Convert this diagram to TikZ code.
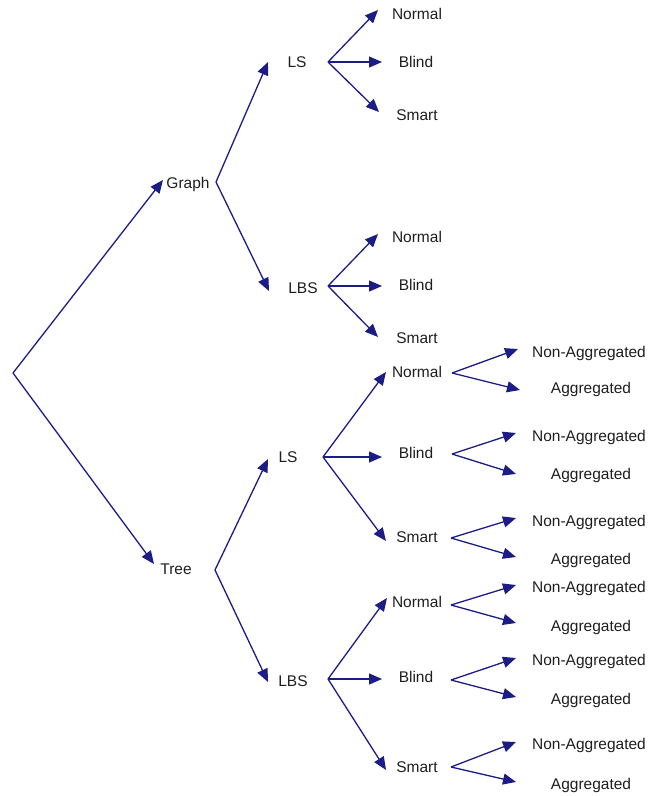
\documentclass[tikz,border=0pt]{standalone}
\usepackage{fontspec}
\setmainfont{Liberation Sans}
\usetikzlibrary{arrows.meta}
\definecolor{linknavy}{RGB}{28,28,135}
\definecolor{labelgray}{RGB}{30,30,30}
\tikzset{
  lbl/.style={inner sep=0pt, text=labelgray, font=\fontsize{15.5}{18}\selectfont},
  link/.style={draw=linknavy, line width=1.3pt, -{Triangle[length=13pt,width=11pt]}},
}
\begin{document}
\begin{tikzpicture}[x=1pt,y=-1pt]
\useasboundingbox (0,0) rectangle (650,796);

% ---------- labels ----------
\node[lbl] (graph) at (188,184) {Graph};
\node[lbl] (tree)  at (176,569) {Tree};

\node[lbl] (gls)  at (297,62)  {LS};
\node[lbl] (glbs) at (303,288) {LBS};
\node[lbl] (tls)  at (288,457) {LS};
\node[lbl] (tlbs) at (293,681) {LBS};

\node[lbl] (glsN) at (417,14)  {Normal};
\node[lbl] (glsB) at (416,62)  {Blind};
\node[lbl] (glsS) at (417,115) {Smart};

\node[lbl] (glbsN) at (417,237) {Normal};
\node[lbl] (glbsB) at (416,285) {Blind};
\node[lbl] (glbsS) at (417,338) {Smart};

\node[lbl] (tlsN) at (417,372) {Normal};
\node[lbl] (tlsB) at (416,453) {Blind};
\node[lbl] (tlsS) at (417,537) {Smart};

\node[lbl] (tlbsN) at (417,602) {Normal};
\node[lbl] (tlbsB) at (416,677) {Blind};
\node[lbl] (tlbsS) at (417,767) {Smart};

\node[lbl] (na1) at (589,353) {Non-Aggregated};
\node[lbl] (ag1) at (591,389) {Aggregated};
\node[lbl] (na2) at (589,437) {Non-Aggregated};
\node[lbl] (ag2) at (591,475) {Aggregated};
\node[lbl] (na3) at (589,522) {Non-Aggregated};
\node[lbl] (ag3) at (591,560) {Aggregated};
\node[lbl] (na4) at (589,588) {Non-Aggregated};
\node[lbl] (ag4) at (591,627) {Aggregated};
\node[lbl] (na5) at (589,661) {Non-Aggregated};
\node[lbl] (ag5) at (591,700) {Aggregated};
\node[lbl] (na6) at (589,745) {Non-Aggregated};
\node[lbl] (ag6) at (591,785) {Aggregated};

% ---------- branch points ----------
\coordinate (root)  at (13,373);
\coordinate (fG)    at (216,182);
\coordinate (fT)    at (215,570);
\coordinate (fgls)  at (328,62);
\coordinate (fglbs) at (328,286);
\coordinate (ftls)  at (323,457);
\coordinate (ftlbs) at (328,679);
\coordinate (f1) at (452,373);
\coordinate (f2) at (452,454);
\coordinate (f3) at (451,538);
\coordinate (f4) at (451,605);
\coordinate (f5) at (451,680);
\coordinate (f6) at (451,767);

% ---------- arrow ends ----------
\coordinate (tG)  at (163,180);
\coordinate (tT)  at (154,564);
\coordinate (tgls)  at (268,62);
\coordinate (tglbs) at (269,291);
\coordinate (ttls)  at (268,459);
\coordinate (ttlbs) at (268,682);

\coordinate (tglsN) at (378,10);
\coordinate (tglsB) at (382,62);
\coordinate (tglsS) at (379,112);
\coordinate (tglbsN) at (378,234);
\coordinate (tglbsB) at (382,286);
\coordinate (tglbsS) at (378,337);
\coordinate (ttlsN) at (386,372);
\coordinate (ttlsB) at (382,457);
\coordinate (ttlsS) at (386,541);
\coordinate (ttlbsN) at (387,598);
\coordinate (ttlbsB) at (382,679);
\coordinate (ttlbsS) at (386,770);

\coordinate (tna1) at (518,349);
\coordinate (tag1) at (520,390);
\coordinate (tna2) at (516,433);
\coordinate (tag2) at (516,474);
\coordinate (tna3) at (516,518);
\coordinate (tag3) at (516,557);
\coordinate (tna4) at (516,585);
\coordinate (tag4) at (516,623);
\coordinate (tna5) at (516,658);
\coordinate (tag5) at (516,697);
\coordinate (tna6) at (516,742);
\coordinate (tag6) at (516,782);

% ---------- connectors ----------
\draw[link] (root) -- (tG);
\draw[link] (root) -- (tT);

\draw[link] (fG) -- (tgls);
\draw[link] (fG) -- (tglbs);
\draw[link] (fT) -- (ttls);
\draw[link] (fT) -- (ttlbs);

\draw[link] (fgls) -- (tglsN);
\draw[link] (fgls) -- (tglsB);
\draw[link] (fgls) -- (tglsS);
\draw[link] (fglbs) -- (tglbsN);
\draw[link] (fglbs) -- (tglbsB);
\draw[link] (fglbs) -- (tglbsS);
\draw[link] (ftls) -- (ttlsN);
\draw[link] (ftls) -- (ttlsB);
\draw[link] (ftls) -- (ttlsS);
\draw[link] (ftlbs) -- (ttlbsN);
\draw[link] (ftlbs) -- (ttlbsB);
\draw[link] (ftlbs) -- (ttlbsS);

\draw[link] (f1) -- (tna1);
\draw[link] (f1) -- (tag1);
\draw[link] (f2) -- (tna2);
\draw[link] (f2) -- (tag2);
\draw[link] (f3) -- (tna3);
\draw[link] (f3) -- (tag3);
\draw[link] (f4) -- (tna4);
\draw[link] (f4) -- (tag4);
\draw[link] (f5) -- (tna5);
\draw[link] (f5) -- (tag5);
\draw[link] (f6) -- (tna6);
\draw[link] (f6) -- (tag6);
\end{tikzpicture}
\end{document}
